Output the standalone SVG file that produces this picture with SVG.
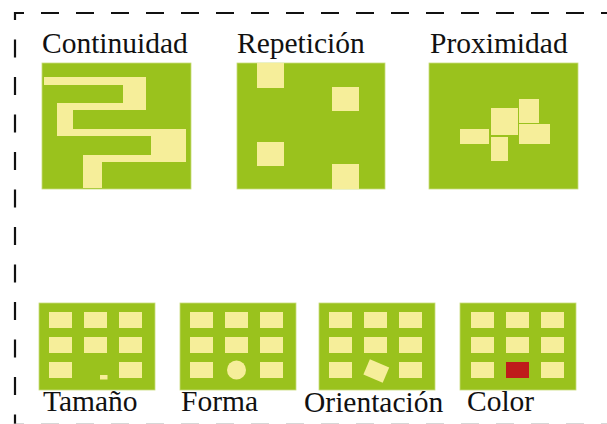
<svg xmlns="http://www.w3.org/2000/svg" width="607" height="424" viewBox="0 0 607 424">
  <style>
    .bg { fill: #ffffff; }
    .panel { fill: #9ac21d; stroke: #c8dc7a; stroke-width: 0.8; }
    .tile { fill: #f6ee9a; }
    .red { fill: #bf1b1b; }
    .label { font-family: "Liberation Serif", "Times New Roman", serif; font-size: 29.5px; fill: #111111; }
    .border { stroke: #111111; stroke-width: 2.2; fill: none; }
  </style>
  <rect class="bg" x="0" y="0" width="607" height="424"/>

  <g id="frame">
    <line class="border" x1="14" y1="13" x2="607" y2="13" stroke-dasharray="18 17" stroke-dashoffset="8"/>
    <line class="border" x1="15" y1="12" x2="15" y2="424" stroke-dasharray="18 19.5" stroke-dashoffset="10"/>
    <line class="border" x1="14" y1="424.6" x2="607" y2="424.6" stroke-dasharray="18 17" stroke-dashoffset="8" style="stroke:#b0b0b0"/>
  </g>

  <g id="continuidad">
    <text class="label" x="42" y="53">Continuidad</text>
    <rect class="panel" x="42" y="63" width="149" height="126"/>
    <polygon class="tile" points="44,77 146,77 146,110 73,110 73,129 186,129 186,162 102,162 102,188 83,188 83,155 151,155 151,136 57,136 57,103 123,103 123,85 44,85"/>
  </g>

  <g id="repeticion">
    <text class="label" x="237" y="53">Repetición</text>
    <rect class="panel" x="237" y="63" width="148" height="126"/>
    <rect class="tile" x="257" y="63" width="27" height="25"/>
    <rect class="tile" x="332" y="87" width="27" height="24"/>
    <rect class="tile" x="257" y="142" width="27" height="24"/>
    <rect class="tile" x="332" y="164" width="27" height="25"/>
  </g>

  <g id="proximidad">
    <text class="label" x="430" y="53">Proximidad</text>
    <rect class="panel" x="429" y="63" width="149" height="126"/>
    <rect class="tile" x="460" y="129" width="29" height="15"/>
    <rect class="tile" x="491" y="108" width="27" height="27"/>
    <rect class="tile" x="491" y="137" width="17" height="24"/>
    <rect class="tile" x="519" y="99" width="20" height="24"/>
    <rect class="tile" x="519" y="124" width="31" height="20"/>
  </g>

  <g id="tamano">
    <rect class="panel" x="39" y="303" width="116" height="87"/>
    <rect class="tile" x="49" y="312" width="23" height="16"/>
    <rect class="tile" x="84" y="312" width="23" height="16"/>
    <rect class="tile" x="119" y="312" width="23" height="16"/>
    <rect class="tile" x="49" y="337" width="23" height="16"/>
    <rect class="tile" x="84" y="337" width="23" height="16"/>
    <rect class="tile" x="119" y="337" width="23" height="16"/>
    <rect class="tile" x="49" y="362" width="23" height="16"/>
    <rect class="tile" x="100" y="375" width="7.5" height="4.5"/>
    <rect class="tile" x="119" y="362" width="23" height="16"/>
    <text class="label" x="43" y="411">Tamaño</text>
  </g>

  <g id="forma">
    <rect class="panel" x="180" y="303" width="116" height="87"/>
    <rect class="tile" x="190" y="312" width="23" height="16"/>
    <rect class="tile" x="225" y="312" width="23" height="16"/>
    <rect class="tile" x="260" y="312" width="23" height="16"/>
    <rect class="tile" x="190" y="337" width="23" height="16"/>
    <rect class="tile" x="225" y="337" width="23" height="16"/>
    <rect class="tile" x="260" y="337" width="23" height="16"/>
    <rect class="tile" x="190" y="362" width="23" height="16"/>
    <circle class="tile" cx="236.5" cy="370" r="9.5"/>
    <rect class="tile" x="260" y="362" width="23" height="16"/>
    <text class="label" x="181" y="411">Forma</text>
  </g>

  <g id="orientacion">
    <rect class="panel" x="319" y="303" width="116" height="87"/>
    <rect class="tile" x="329" y="312" width="23" height="16"/>
    <rect class="tile" x="364" y="312" width="23" height="16"/>
    <rect class="tile" x="399" y="312" width="23" height="16"/>
    <rect class="tile" x="329" y="337" width="23" height="16"/>
    <rect class="tile" x="364" y="337" width="23" height="16"/>
    <rect class="tile" x="399" y="337" width="23" height="16"/>
    <rect class="tile" x="329" y="362" width="23" height="16"/>
    <rect class="tile" x="-10.5" y="-8.3" width="21" height="16.6" transform="translate(376.3 371) rotate(23)"/>
    <rect class="tile" x="399" y="362" width="23" height="16"/>
    <text class="label" x="304" y="412">Orientación</text>
  </g>

  <g id="color">
    <rect class="panel" x="460" y="303" width="116" height="87"/>
    <rect class="tile" x="471" y="312" width="23" height="16"/>
    <rect class="tile" x="506" y="312" width="23" height="16"/>
    <rect class="tile" x="541" y="312" width="23" height="16"/>
    <rect class="tile" x="471" y="337" width="23" height="16"/>
    <rect class="tile" x="506" y="337" width="23" height="16"/>
    <rect class="tile" x="541" y="337" width="23" height="16"/>
    <rect class="tile" x="471" y="362" width="23" height="16"/>
    <rect class="red" x="506" y="362" width="23" height="16"/>
    <rect class="tile" x="541" y="362" width="23" height="16"/>
    <text class="label" x="467" y="411">Color</text>
  </g>

  <g id="connectors"/>
</svg>
